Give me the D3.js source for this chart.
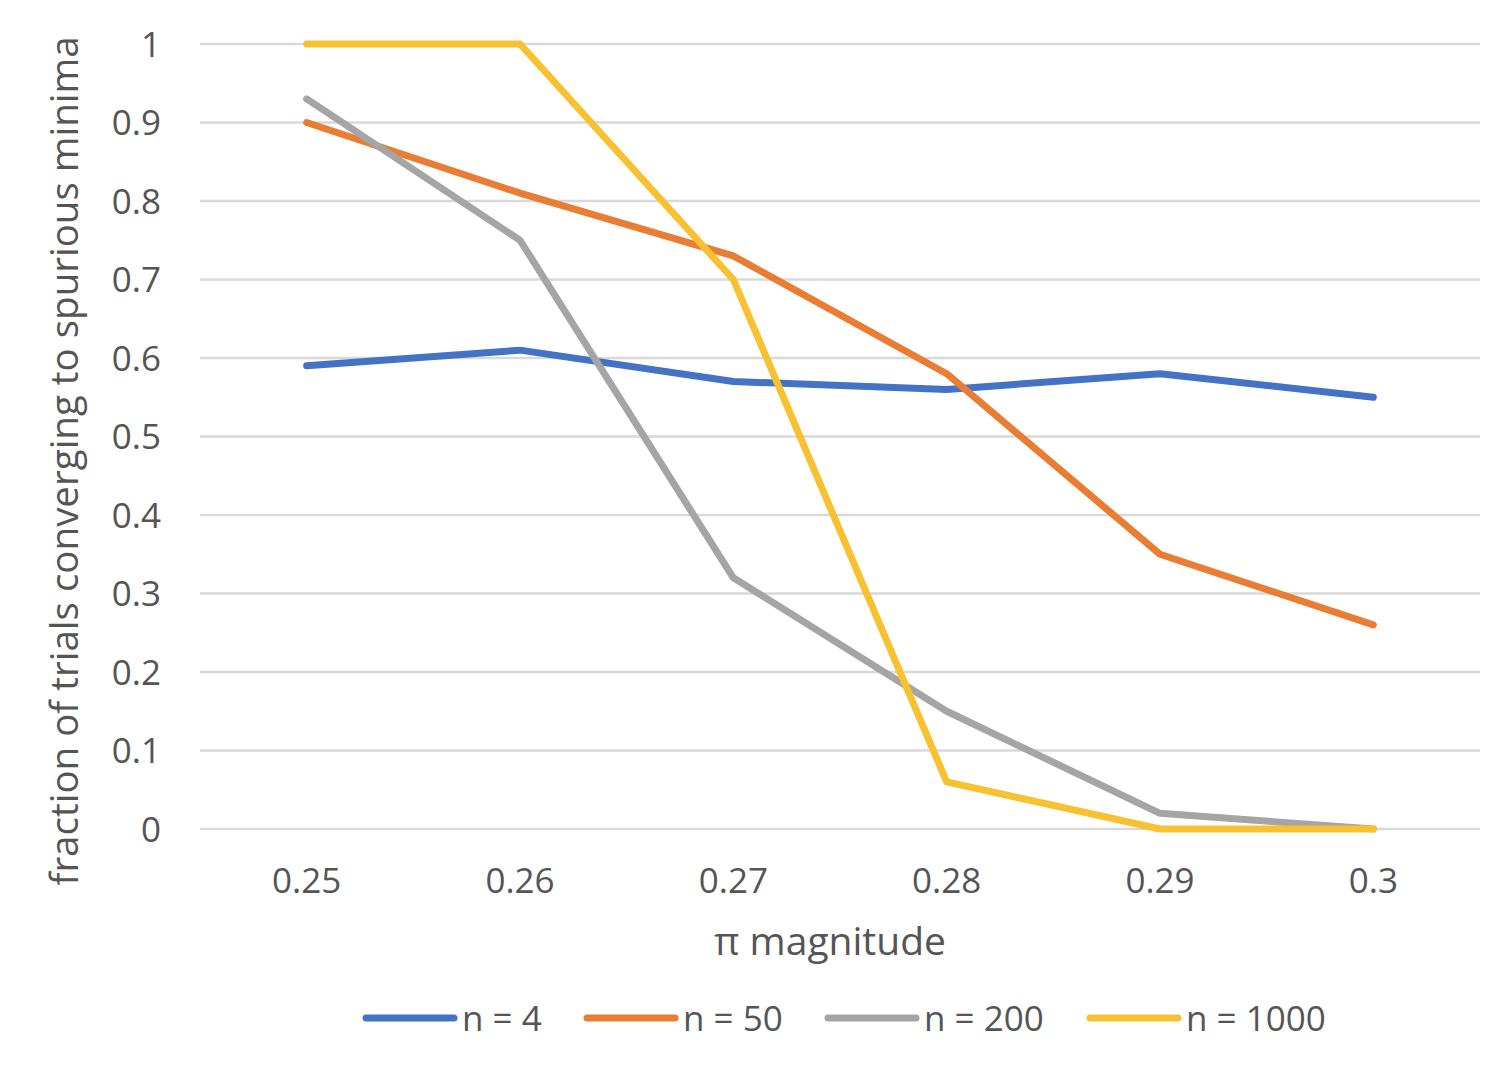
<!DOCTYPE html>
<html>
<head>
<meta charset="utf-8">
<script src="https://cdn.jsdelivr.net/npm/d3@7"></script>
<style>
  body { margin: 0; background: #fff; }
  svg text { font-family: "Open Sans", "Noto Sans", sans-serif; fill: #555555; }
</style>
</head>
<body>
<svg width="1496" height="1074"></svg>
<script>
const categories = ["0.25", "0.26", "0.27", "0.28", "0.29", "0.3"]
const yTicks = [0, 0.1, 0.2, 0.3, 0.4, 0.5, 0.6, 0.7, 0.8, 0.9, 1]
const seriesNames = ["n = 4", "n = 50", "n = 200", "n = 1000"]
const seriesColors = ["#4472C4", "#E87D33", "#A5A5A5", "#F7C132"]
const n4 = [0.59, 0.61, 0.57, 0.56, 0.58, 0.55]
const n50 = [0.90, 0.81, 0.73, 0.58, 0.35, 0.26]
const n200 = [0.93, 0.75, 0.32, 0.15, 0.02, 0]
const n1000 = [1, 1, 0.70, 0.06, 0, 0]
const seriesValues = [n4, n50, n200, n1000]

const svg = d3.select("svg")

const x = d3.scaleBand().domain(categories).range([200, 1480])
const y = d3.scaleLinear().domain([0, 1]).range([829, 44])

// gridlines
svg.append("g")
  .selectAll("line")
  .data(yTicks)
  .enter()
  .append("line")
  .attr("x1", 200)
  .attr("x2", 1480)
  .attr("y1", d => y(d))
  .attr("y2", d => y(d))
  .attr("stroke", "#d9d9d9")
  .attr("stroke-width", 2.5)

// y tick labels
svg.append("g")
  .selectAll("text")
  .data(yTicks)
  .enter()
  .append("text")
  .attr("x", 161)
  .attr("y", d => y(d))
  .attr("dy", "0.36em")
  .attr("text-anchor", "end")
  .style("font-size", "35px")
  .text(d => d3.format("~g")(d))

// x tick labels
svg.append("g")
  .selectAll("text")
  .data(categories)
  .enter()
  .append("text")
  .attr("x", d => x(d) + x.bandwidth() / 2)
  .attr("y", 893)
  .attr("text-anchor", "middle")
  .style("font-size", "35px")
  .text(d => d)

// axis titles
svg.append("text")
  .attr("x", 830)
  .attr("y", 955)
  .attr("text-anchor", "middle")
  .style("font-size", "39px")
  .text("π magnitude")

svg.append("text")
  .attr("transform", "translate(78,461) rotate(-90)")
  .attr("text-anchor", "middle")
  .style("font-size", "38.5px")
  .text("fraction of trials converging to spurious minima")

// lines
const line = d3.line()
  .x((d, i) => x(categories[i]) + x.bandwidth() / 2)
  .y(d => y(d))

svg.append("g")
  .selectAll("path")
  .data(seriesValues)
  .enter()
  .append("path")
  .attr("d", line)
  .attr("fill", "none")
  .attr("stroke", (d, i) => seriesColors[i])
  .attr("stroke-width", 7)
  .attr("stroke-linejoin", "round")
  .attr("stroke-linecap", "round")

// legend
const legendX = [366, 587, 828, 1090]
const lg = svg.append("g")
  .selectAll("g")
  .data(seriesNames)
  .enter()
  .append("g")
  .attr("transform", (d, i) => "translate(" + legendX[i] + ",1018)")

lg.append("line")
  .attr("x1", 0)
  .attr("x2", 88)
  .attr("stroke", (d, i) => seriesColors[i])
  .attr("stroke-width", 7)
  .attr("stroke-linecap", "round")

lg.append("text")
  .attr("x", 96)
  .attr("dy", "0.36em")
  .style("font-size", "35px")
  .text(d => d)
</script>
</body>
</html>
